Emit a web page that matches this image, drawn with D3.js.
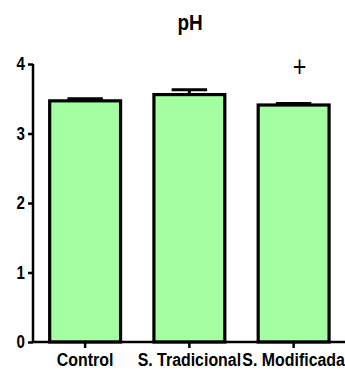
<!DOCTYPE html>
<html>
<head>
<meta charset="utf-8">
<script src="https://cdn.jsdelivr.net/npm/d3@7"></script>
<style>
  body { margin: 0; background: #fff; }
  text { font-family: Arial, "Liberation Sans", sans-serif; font-weight: bold; }
</style>
</head>
<body>
<svg id="chart" width="345" height="375"></svg>
<script>
const categories = ["Control", "S. Tradicional", "S. Modificada"];
const means = [3.47, 3.56, 3.41];
const sem = [0.03, 0.07, 0.02];
const marks = ["", "", "+"];
const yTicks = [0, 1, 2, 3, 4];

// the original uses a condensed face, squeeze Arial horizontally
const NARROW = 0.86;

const svg = d3.select("#chart");

const x = d3.scaleBand()
  .domain(categories)
  .range([33, 345.75])
  .paddingInner(0.32)
  .paddingOuter(0.16);

const y = d3.scaleLinear()
  .domain([0, 4])
  .range([342, 64]);

// title
svg.append("text")
  .attr("transform", `translate(190,30) scale(0.88,1)`)
  .attr("text-anchor", "middle")
  .attr("font-size", 21.5)
  .text("pH");

// bars
svg.append("g")
  .selectAll("rect")
  .data(categories)
  .enter().append("rect")
  .attr("x", d => x(d))
  .attr("y", (d, i) => y(means[i]))
  .attr("width", x.bandwidth())
  .attr("height", (d, i) => y(0) - y(means[i]))
  .attr("fill", "#a3ffa0")
  .attr("stroke", "#000")
  .attr("stroke-width", 3.2);

// error bars (upper only)
const err = svg.append("g").attr("stroke", "#000").attr("stroke-width", 3);
categories.forEach((c, i) => {
  const cx = x(c) + x.bandwidth() / 2;
  err.append("line")
    .attr("x1", cx).attr("x2", cx)
    .attr("y1", y(means[i])).attr("y2", y(means[i] + sem[i]));
  err.append("line")
    .attr("x1", cx - x.bandwidth() / 4).attr("x2", cx + x.bandwidth() / 4)
    .attr("y1", y(means[i] + sem[i])).attr("y2", y(means[i] + sem[i]));
});

// significance marks
svg.append("g")
  .selectAll("text")
  .data(categories)
  .enter().append("text")
  .attr("transform", d => `translate(${x(d) + x.bandwidth() / 2 + 6},${y(3.82)}) scale(0.8,1)`)
  .attr("text-anchor", "middle")
  .attr("font-size", 29)
  .style("font-weight", "normal")
  .text((d, i) => marks[i]);

// y axis
const yAxis = svg.append("g")
  .attr("transform", "translate(33,0)")
  .call(d3.axisLeft(y).tickValues(yTicks).tickFormat(d3.format("d")).tickSize(5).tickPadding(3));

// x axis
const xAxis = svg.append("g")
  .attr("transform", "translate(0,342)")
  .call(d3.axisBottom(x).tickSize(6).tickPadding(5));

[yAxis, xAxis].forEach(ax => {
  ax.select(".domain").attr("stroke-width", 2.5);
  ax.selectAll(".tick line").attr("stroke-width", 2.5);
  ax.selectAll("text").attr("fill", "#000")
    .style("font-family", "Arial, 'Liberation Sans', sans-serif")
    .style("font-weight", "bold");
});
yAxis.select(".domain").attr("d", "M0,342V64");
xAxis.select(".domain").attr("d", "M33,0H345");

yAxis.selectAll("text")
  .attr("font-size", 18)
  .attr("x", -8 / 0.84)
  .attr("transform", "scale(0.84,1)");
xAxis.selectAll("text")
  .attr("font-size", 18.5)
  .attr("transform", `scale(${NARROW},1)`);
</script>
</body>
</html>
